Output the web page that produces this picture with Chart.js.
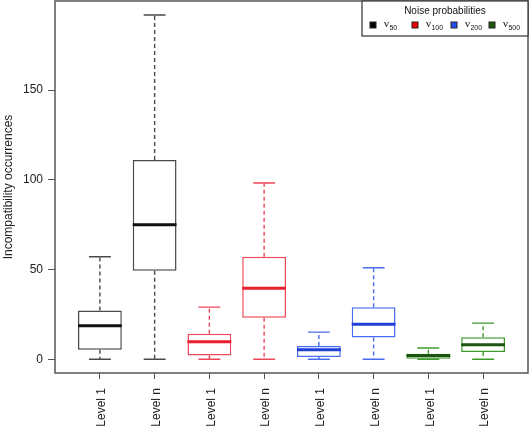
<!DOCTYPE html>
<html>
<head>
<meta charset="utf-8">
<script src="https://cdn.jsdelivr.net/npm/chart.js@4.4.1/dist/chart.umd.min.js"></script>
<style>
  html, body { margin: 0; padding: 0; background: #fff; }
  #wrap { width: 530px; height: 427px; }
</style>
</head>
<body>
<div id="wrap"><canvas id="c" width="530" height="427"></canvas></div>
<script>
// ---- data ----
const categories = ['Level 1', 'Level n', 'Level 1', 'Level n', 'Level 1', 'Level n', 'Level 1', 'Level n'];
const groupNames = ['ν50', 'ν100', 'ν200', 'ν500'];
const whiskerLow  = [0, 0, 0, 0, 0, 0, 0, 0];
const q1          = [5.3, 49.3, 2.1, 23.1, 1.2, 12.1, 0, 4.0];
const median      = [18.6, 74.9, 9.7, 39.5, 5.3, 19.5, 2.1, 8.1];
const q3          = [27.1, 111, 14.2, 57.1, 7.3, 29, 3.1, 12.3];
const whiskerHigh = [57.1, 191.9, 29, 98.2, 15.1, 51, 6.2, 20.1];
const yTickValues = [0, 50, 100, 150];
const yTitle = 'Incompatibility occurrences';
const legendTitle = 'Noise probabilities';

// ---- styles ----
const outlineColors = ['#4a4a4a', '#f0465a', '#4a6cf0', '#3f9a2c'];
const medianColors  = ['#111111', '#e8202e', '#1e3fd8', '#1d5412'];
const legendFill    = ['#000000', '#ee0000', '#2050f0', '#1a5a0a'];

const datasets = [];
groupNames.forEach((g, gi) => {
  const idx = [gi * 2, gi * 2 + 1];
  const boxData = [], whisk = [], caps = [], meds = [];
  idx.forEach(i => {
    const x = i + 1;
    boxData.push({ x: x, y: [q1[i], q3[i]] });
    whisk.push({ x: x, y: q3[i] }, { x: x, y: whiskerHigh[i] }, { x: x, y: null });
    whisk.push({ x: x, y: q1[i] }, { x: x, y: whiskerLow[i] }, { x: x, y: null });
    caps.push({ x: x - 0.2, y: whiskerHigh[i] }, { x: x + 0.2, y: whiskerHigh[i] }, { x: x, y: null });
    caps.push({ x: x - 0.2, y: whiskerLow[i] }, { x: x + 0.2, y: whiskerLow[i] }, { x: x, y: null });
    meds.push({ x: x - 0.4, y: median[i] }, { x: x + 0.4, y: median[i] }, { x: x, y: null });
  });
  datasets.push({
    type: 'bar', label: g, data: boxData, order: 3,
    backgroundColor: '#ffffff', borderColor: outlineColors[gi], borderWidth: 1.5,
    borderSkipped: false, grouped: false, barPercentage: 0.8, categoryPercentage: 1
  });
  datasets.push({
    type: 'line', label: g + ' whisker', data: whisk, order: 2,
    borderColor: outlineColors[gi], borderWidth: 1.4, borderDash: [4, 3],
    pointRadius: 0, spanGaps: false, fill: false, tension: 0
  });
  datasets.push({
    type: 'line', label: g + ' cap', data: caps, order: 1,
    borderColor: outlineColors[gi], borderWidth: 1.4,
    pointRadius: 0, spanGaps: false, fill: false, tension: 0
  });
  datasets.push({
    type: 'line', label: g + ' median', data: meds, order: 0,
    borderColor: medianColors[gi], borderWidth: 3,
    pointRadius: 0, spanGaps: false, fill: false, tension: 0
  });
});

const framePlugin = {
  id: 'frame',
  afterDatasetsDraw(chart) {
    const { ctx, chartArea: a } = chart;
    ctx.save();
    ctx.strokeStyle = '#555555';
    ctx.lineWidth = 1.5;
    ctx.strokeRect(a.left, a.top, a.right - a.left, a.bottom - a.top);
    // legend
    const lx = 362, ly = a.top, lw = a.right - lx, lh = 35;
    ctx.fillStyle = '#ffffff';
    ctx.fillRect(lx, ly, lw, lh);
    ctx.strokeStyle = '#333333';
    ctx.lineWidth = 1.2;
    ctx.strokeRect(lx, ly, lw, lh);
    ctx.fillStyle = '#111111';
    ctx.font = '10px "Liberation Sans", Arial, sans-serif';
    ctx.textAlign = 'center';
    ctx.textBaseline = 'middle';
    ctx.fillText(legendTitle, 445, ly + 10);
    const offs = [11, 53, 92, 130];
    groupNames.forEach((g, gi) => {
      const cx = lx + offs[gi], cy = ly + 24;
      ctx.fillStyle = legendFill[gi];
      ctx.fillRect(cx - 3, cy - 3, 6, 6);
      ctx.strokeStyle = '#222';
      ctx.lineWidth = 1;
      ctx.strokeRect(cx - 3, cy - 3, 6, 6);
      ctx.fillStyle = '#111111';
      ctx.textAlign = 'left';
      ctx.textBaseline = 'alphabetic';
      ctx.font = '11px "Liberation Serif", "Times New Roman", serif';
      const tx = cx + 11;
      ctx.fillText(g.charAt(0), tx, cy + 2);
      const w = ctx.measureText(g.charAt(0)).width;
      ctx.font = '7px "Liberation Sans", Arial, sans-serif';
      ctx.fillText(g.slice(1), tx + w + 0.5, cy + 4.5);
    });
    ctx.restore();
  }
};

new Chart(document.getElementById('c'), {
  type: 'bar',
  data: { datasets: datasets },
  plugins: [framePlugin],
  options: {
    responsive: false,
    animation: false,
    events: [],
    layout: { padding: { left: 0, right: 2, top: 1, bottom: 0 } },
    plugins: { legend: { display: false }, tooltip: { enabled: false } },
    scales: {
      x: {
        type: 'linear', min: 0.18, max: 8.82, offset: false,
        afterBuildTicks(scale) { scale.ticks = categories.map((c, i) => ({ value: i + 1 })); },
        afterFit(scale) { scale.height = 54; scale.paddingLeft = 0; scale.paddingRight = 0; },
        ticks: {
          autoSkip: false, minRotation: 90, maxRotation: 90, padding: 9, labelOffset: 2,
          color: '#222', font: { family: '"Liberation Sans", Arial, sans-serif', size: 12 },
          callback: (v) => categories[Math.round(v) - 1]
        },
        grid: { display: true, offset: false, drawOnChartArea: false, tickLength: 6, color: '#555', lineWidth: 1 },
        border: { display: false }
      },
      y: {
        type: 'linear', min: -7.7, max: 199.7,
        afterBuildTicks(scale) { scale.ticks = yTickValues.map(v => ({ value: v })); },
        afterFit(scale) { scale.width = 55; scale.paddingTop = 0; scale.paddingBottom = 0; },
        ticks: {
          padding: 5, color: '#222',
          font: { family: '"Liberation Sans", Arial, sans-serif', size: 12 },
          callback: (v) => String(v)
        },
        grid: { display: true, drawOnChartArea: false, tickLength: 7, color: '#555', lineWidth: 1 },
        border: { display: false },
        title: {
          display: true, text: yTitle, color: '#222', padding: { top: 1, bottom: 0 },
          font: { family: '"Liberation Sans", Arial, sans-serif', size: 12 }
        }
      }
    }
  }
});
</script>
</body>
</html>
